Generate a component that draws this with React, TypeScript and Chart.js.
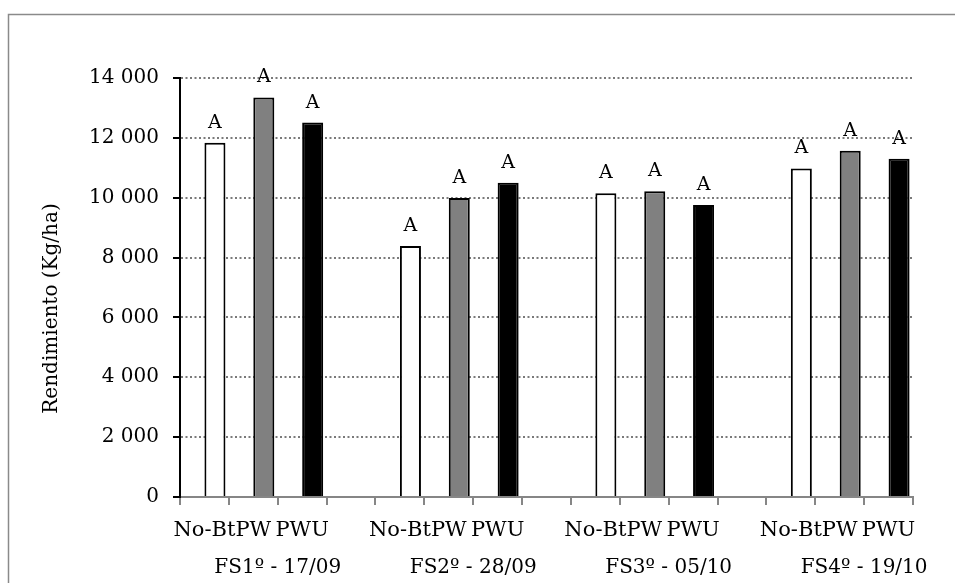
import React, { useEffect, useRef } from 'react';
import { Chart, registerables } from 'chart.js';

Chart.register(...registerables);

// ---- data ----
const categories = [
  'No-Bt', 'PW', 'PWU', '',
  'No-Bt', 'PW', 'PWU', '',
  'No-Bt', 'PW', 'PWU', '',
  'No-Bt', 'PW', 'PWU',
];
const groupLabels = ['FS1º - 17/09', 'FS2º - 28/09', 'FS3º - 05/10', 'FS4º - 19/10'];
const yieldValues = [
  11840, 13350, 12510, null,
  8390, 9990, 10500, null,
  10150, 10220, 9760, null,
  10980, 11570, 11300,
];
const significanceLetters = [
  'A', 'A', 'A', '',
  'A', 'A', 'A', '',
  'A', 'A', 'A', '',
  'A', 'A', 'A',
];
const yTicks = [0, 2000, 4000, 6000, 8000, 10000, 12000, 14000];
const yTitle = 'Rendimiento (Kg/ha)';

// ---- styles ----
const FONT = 'DejaVu Serif';
const treatmentColors: Record<string, string> = {
  'No-Bt': '#ffffff',
  PW: '#808080',
  PWU: '#000000',
};

const fmt = (v: number) => String(v).replace(/\B(?=(\d{3})+(?!\d))/g, ' ');

const decorPlugin = {
  id: 'decor',
  beforeDraw(chart: any) {
    const { ctx } = chart;
    ctx.save();
    ctx.strokeStyle = '#8a8a8a';
    ctx.lineWidth = 1.5;
    ctx.strokeRect(8.5, 14.5, chart.width + 20, chart.height + 20);
    ctx.restore();
  },
  afterDatasetsDraw(chart: any) {
    const { ctx } = chart;
    const meta = chart.getDatasetMeta(1);
    ctx.save();
    ctx.fillStyle = '#000';
    ctx.font = `19px "${FONT}"`;
    ctx.textAlign = 'center';
    ctx.textBaseline = 'alphabetic';
    meta.data.forEach((el: any, i: number) => {
      const t = significanceLetters[i];
      if (!t || yieldValues[i] == null) return;
      ctx.fillText(t, el.x, el.y - 15);
    });
    ctx.restore();
  },
  afterDraw(chart: any) {
    const { ctx } = chart;
    const xs = chart.scales.x;
    ctx.save();
    ctx.fillStyle = '#000';
    ctx.font = `20px "${FONT}"`;
    ctx.textAlign = 'center';
    ctx.textBaseline = 'alphabetic';
    groupLabels.forEach((g, gi) => {
      const i1 = gi * 4 + 1;
      const i2 = gi * 4 + 2;
      const x = (xs.getPixelForValue(i1) + xs.getPixelForValue(i2)) / 2;
      ctx.fillText(g, x, 573);
    });
    // y-axis title
    const ys = chart.scales.y;
    ctx.translate(52, (ys.top + ys.bottom) / 2 + 21);
    ctx.rotate(-Math.PI / 2);
    ctx.textBaseline = 'middle';
    ctx.fillText(yTitle, 0, 0);
    ctx.restore();
  },
};

export default function App() {
  const ref = useRef<HTMLCanvasElement | null>(null);

  useEffect(() => {
    if (!ref.current) return;
    const chart = new Chart(ref.current, {
      type: 'bar',
      data: {
        labels: categories,
        datasets: [
          {
            label: 'spacer',
            data: categories.map(() => null),
            backgroundColor: 'transparent',
          },
          {
            label: 'Rendimiento',
            data: yieldValues,
            backgroundColor: categories.map((c) => treatmentColors[c] || '#fff'),
            borderColor: '#000',
            borderWidth: 2,
          },
        ],
      } as any,
      options: {
        animation: false,
        responsive: false,
        maintainAspectRatio: false,
        datasets: { bar: { categoryPercentage: 0.86, barPercentage: 1 } } as any,
        layout: { padding: { left: 0, right: 42, top: 78, bottom: 0 } },
        plugins: {
          legend: { display: false },
          tooltip: { enabled: false },
        },
        scales: {
          x: {
            type: 'category',
            offset: true,
            grid: {
              offset: true,
              drawOnChartArea: false,
              color: '#868686',
              lineWidth: 2,
              tickLength: 8,
              tickColor: '#868686',
              tickWidth: 2,
            },
            border: { color: '#868686', width: 2 },
            ticks: {
              autoSkip: false,
              maxRotation: 0,
              minRotation: 0,
              color: '#000',
              padding: 13,
              font: { family: FONT, size: 21 },
            },
            afterFit: (s: any) => {
              s.height = 86;
            },
          },
          y: {
            min: 0,
            max: 14000,
            afterBuildTicks: (s: any) => {
              s.ticks = yTicks.map((v) => ({ value: v }));
            },
            ticks: {
              color: '#000',
              padding: 14,
              font: { family: FONT, size: 20 },
              callback: (v: any) => fmt(Number(v)),
            },
            grid: {
              color: '#7a7a7a',
              lineWidth: 2,
              tickLength: 7,
              tickColor: '#000',
              tickWidth: 2,
              tickBorderDash: [],
            },
            border: { color: '#000', width: 2, dash: [2, 2.5] },
            afterFit: (s: any) => {
              s.width = 180;
            },
          },
        },
      } as any,
      plugins: [decorPlugin],
    });
    return () => chart.destroy();
  }, []);

  return (
    <div style={{ position: 'fixed', left: 0, top: 0, width: 955, height: 583, background: '#fff' }}>
      <canvas ref={ref} width={955} height={583} style={{ width: 955, height: 583 }} />
    </div>
  );
}
